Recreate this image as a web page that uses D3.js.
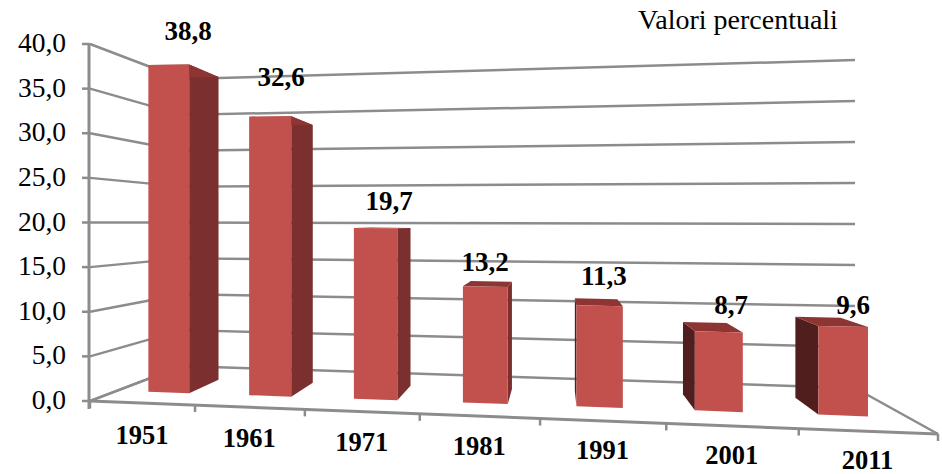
<!DOCTYPE html>
<html><head><meta charset="utf-8">
<script src="https://cdn.jsdelivr.net/npm/d3@7/dist/d3.min.js"></script>
<style>html,body{margin:0;padding:0;background:#fff}svg{display:block}</style>
</head><body><svg id="c" width="942" height="474" font-family="'Liberation Serif','Times New Roman',Times,serif"></svg>
<script>
const years = ["1951","1961","1971","1981","1991","2001","2011"];
const values = [38.8,32.6,19.7,13.2,11.3,8.7,9.6];
const valueLabels = ["38,8","32,6","19,7","13,2","11,3","8,7","9,6"];
const yTicks = [0,5,10,15,20,25,30,35,40];

// layout
const labelCenterX = [188,281,389,485,604,731,853];
const labelBaseline = [40,86,210,271,285,314,314];
const barHalf = 0.0285, depthFront = 0.25, depthBack = 0.62;

// floor plane: corners of the 3D box on screen, solved as a homography
const FL=[90,401], FR=[938,434], BL=[182,366], BR=[855,388];
const dx1=[FR[0]-BR[0],FR[1]-BR[1]], dx2=[BL[0]-BR[0],BL[1]-BR[1]];
const s=[FL[0]-FR[0]+BR[0]-BL[0],FL[1]-FR[1]+BR[1]-BL[1]];
const det=(a,b)=>a[0]*b[1]-a[1]*b[0];
const g=det(s,dx2)/det(dx1,dx2), h=det(dx1,s)/det(dx1,dx2);
const a=[FR[0]*(1+g)-FL[0],FR[1]*(1+g)-FL[1]], b=[BL[0]*(1+h)-FL[0],BL[1]*(1+h)-FL[1]];

const yHeight = d3.scaleLinear().domain([0,40]).range([0,357]);   // height at front-left corner
const yBack = d3.scaleLinear().domain([0,40]).range([366,79]);
const yRight = d3.scaleLinear().domain([0,40]).range([388,60]);
const xBand = d3.scaleLinear().domain([0,years.length]).range([0,1]);
const warp = t => t/(1+0.035*(1-t));
function P(u,w,v){
  const W=1+g*u+h*w;
  return [(a[0]*u+b[0]*w+FL[0])/W,(a[1]*u+b[1]*w+FL[1]-yHeight(v))/W];
}
const svg=d3.select("#c");
const poly=(pts,fill)=>svg.append("polygon").attr("points",pts.map(p=>p.join(",")).join(" ")).attr("fill",fill);
const seg=(p,q,w)=>svg.append("line").attr("x1",p[0]).attr("y1",p[1]).attr("x2",q[0]).attr("y2",q[1]).attr("stroke","#8c8c8c").attr("stroke-width",w);

yTicks.forEach(v=>{
  const y0=FL[1]-yHeight(v);
  seg([FL[0],y0],[BL[0],yBack(v)],2.5);
  seg([BL[0],yBack(v)],[BR[0],yRight(v)],2.5);
  seg([82,y0],[FL[0],y0],2.5);
  svg.append("text").attr("x",66).attr("y",y0+8).attr("text-anchor","end").attr("font-size",27.5).attr("fill","#000").text(d3.format(".1f")(v).replace(".",","));
});
seg([FL[0]-1,FL[1]-yHeight(40)],[FL[0]-1,409],3);
seg(FL,BL,2);
seg(BR,FR,2.5);
seg(FL,FR,3);
d3.range(years.length+1).forEach(i=>{
  const p=P(warp(xBand(i)),0,0);
  seg(p,[p[0],p[1]+7],2.5);
});

values.forEach((v,i)=>{
  const t=warp(xBand(i+.5)), c=.5+(t-.5)*.995+.001, u0=c-barHalf, u1=c+barHalf, wf=depthFront+.05*c, wb=depthBack+.06*c, hv=v*.997;
  const fTL=P(u0,wf,hv), fTR=P(u1,wf,hv), fBL=P(u0,wf,0), fBR=P(u1,wf,0);
  const bTL=P(u0,wb,hv), bTR=P(u1,wb,hv), bBL=P(u0,wb,0), bBR=P(u1,wb,0);
  if(bTR[0]>fTR[0]) poly([fTR,bTR,bBR,fBR],"#7b2f2e");
  if(bTL[0]<fTL[0]) poly([fTL,bTL,bBL,fBL],"#4f1e1d");
  poly([fTL,bTL,bTR,fTR],"#8c3533");
  poly([fTL,fTR,fBR,fBL],"#c2514e");
});
values.forEach((v,i)=>{
  svg.append("text").attr("x",labelCenterX[i]).attr("y",labelBaseline[i]).attr("text-anchor","middle").attr("font-size",27).attr("font-weight","bold").attr("fill","#000").text(valueLabels[i]);
  const u=warp(xBand(i+.5)), m=P(u,0,0);
  svg.append("text").attr("x",m[0]).attr("y",m[1]+41-4*u).attr("text-anchor","middle").attr("font-size",26.5).attr("font-weight","bold").attr("fill","#000").text(years[i]);
});
svg.append("text").attr("x",738).attr("y",29).attr("text-anchor","middle").attr("font-size",28).attr("fill","#000").text("Valori percentuali");
</script></body></html>
